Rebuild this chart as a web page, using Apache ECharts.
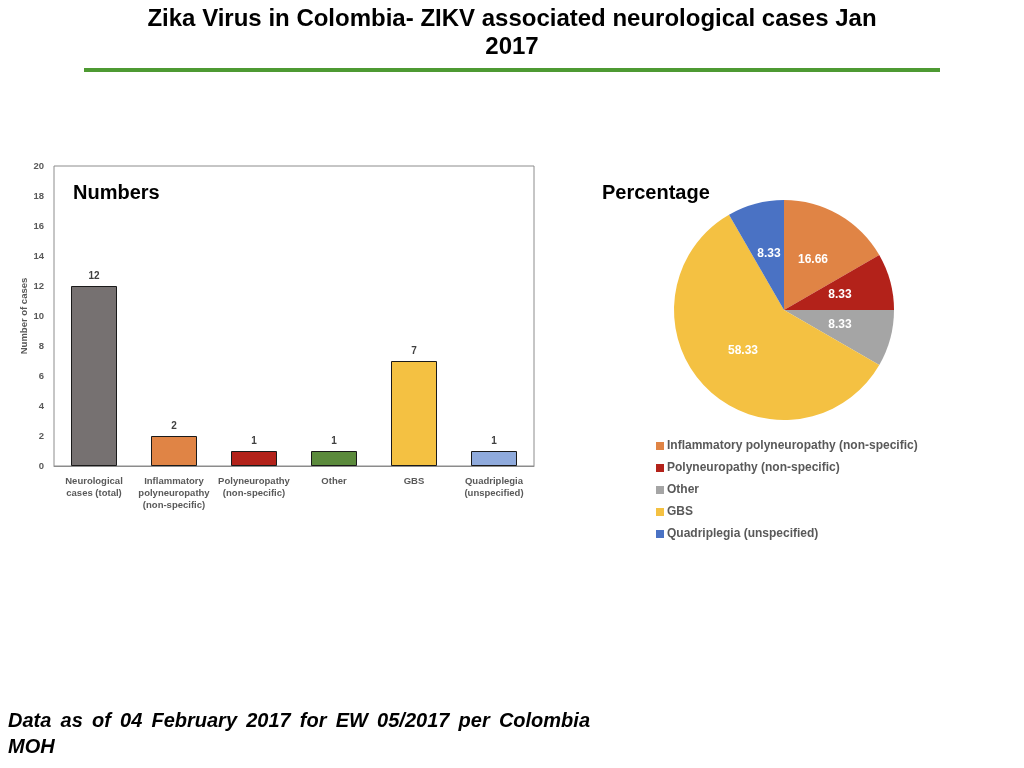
<!DOCTYPE html>
<html lang="en">
<head>
	<meta charset="UTF-8">
	<title>Zika Virus in Colombia</title>
	<script src="https://cdn.jsdelivr.net/npm/echarts@6/dist/echarts.min.js"></script>
	<style>
		html, body { margin: 0; padding: 0; background: #fff; }
		#main { width: 1024px; height: 768px; }
	</style>
</head>
<body>
<div id="main"></div>
<script>
	// bar chart data (numbers)
	var barCategories = ['Neurological\ncases (total)', 'Inflammatory\npolyneuropathy\n(non-specific)', 'Polyneuropathy\n(non-specific)', 'Other', 'GBS', 'Quadriplegia\n(unspecified)'];
	var barValues = [12, 2, 1, 1, 7, 1];
	var barColors = ['#767171', '#E08445', '#B3221A', '#5B8A3C', '#F4C142', '#8FAADC'];

	// pie data (percentage)
	var pieNames = ['Inflammatory polyneuropathy (non-specific)', 'Polyneuropathy (non-specific)', 'Other', 'GBS', 'Quadriplegia (unspecified)'];
	var pieValues = [16.66, 8.33, 8.33, 58.33, 8.33];
	var pieColors = ['#E08445', '#B3221A', '#A5A5A5', '#F4C142', '#4A72C4'];

	var titleLines = ['Zika Virus in Colombia- ZIKV associated neurological cases Jan', '2017'];
	var footWords = 'Data as of 04 February 2017 for EW 05/2017 per Colombia'.split(' ');

	var font = "'Liberation Sans', Arial, sans-serif";

	// lay out the justified first line of the footnote
	function justifyWords(words, x0, x1, fontStr){
		var ctx = document.createElement('canvas').getContext('2d');
		ctx.font = fontStr;
		var widths = words.map(function(w){ return ctx.measureText(w).width; });
		var total = widths.reduce(function(a, b){ return a + b; }, 0);
		var gap = (x1 - x0 - total) / (words.length - 1);
		var out = [], x = x0;
		for(var i=0; i<words.length; i++){
			out.push({x: x, w: words[i]});
			x += widths[i] + gap;
		}
		return out;
	}

	var chart = echarts.init(document.getElementById('main'));

	var footStyle = 'italic bold 20px ' + font;
	var footGraphics = justifyWords(footWords, 8, 590, footStyle).map(function(p){
		return {
			type: 'text', left: p.x, top: 711,
			style: {text: p.w, font: footStyle, fill: '#000'}
		};
	});
	footGraphics.push({
		type: 'text', left: 8, top: 737,
		style: {text: 'MOH', font: footStyle, fill: '#000'}
	});

	var titleGraphics = titleLines.map(function(t, i){
		return {
			type: 'text', left: 'center', top: 7 + i * 28,
			style: {text: t, font: 'bold 24px ' + font, fill: '#000'}
		};
	});

	var option = {
		backgroundColor: '#fff',
		textStyle: {fontFamily: font},
		graphic: titleGraphics.concat([
			{
				type: 'rect', shape: {x: 84, y: 68, width: 856, height: 4},
				style: {fill: '#4E9A32'}
			},
			{
				type: 'text', left: 73, top: 183,
				style: {text: 'Numbers', font: 'bold 20px ' + font, fill: '#000'}
			},
			{
				type: 'text', left: 602, top: 183,
				style: {text: 'Percentage', font: 'bold 20px ' + font, fill: '#000'}
			}
		]).concat(footGraphics),
		grid: {
			left: 54, right: 490, top: 166, bottom: 302,
			show: true, borderColor: '#8c8c8c', borderWidth: 1
		},
		xAxis: {
			type: 'category',
			data: barCategories,
			axisLine: {lineStyle: {color: '#8c8c8c'}},
			axisTick: {show: false},
			axisLabel: {color: '#595959', fontSize: 9.5, fontWeight: 'bold', lineHeight: 12, interval: 0, margin: 9}
		},
		yAxis: {
			type: 'value',
			min: 0, max: 20, interval: 2,
			name: 'Number of cases',
			nameLocation: 'middle',
			nameGap: 24,
			nameTextStyle: {color: '#595959', fontSize: 9.5, fontWeight: 'bold'},
			axisLine: {show: false},
			axisTick: {show: false},
			splitLine: {show: false},
			axisLabel: {color: '#595959', fontSize: 9.5, fontWeight: 'bold', margin: 10}
		},
		legend: {
			data: pieNames,
			orient: 'vertical',
			left: 656, top: 440,
			padding: 0,
			itemWidth: 8, itemHeight: 8, itemGap: 10,
			icon: 'rect',
			textStyle: {color: '#595959', fontSize: 12, fontWeight: 'bold', padding: [0, 0, 0, -2]}
		},
		series: [
			{
				type: 'bar',
				barWidth: 46,
				data: barValues.map(function(v, i){
					return {value: v, itemStyle: {color: barColors[i]}};
				}),
				itemStyle: {borderColor: '#1a1a1a', borderWidth: 1},
				label: {show: true, position: 'top', color: '#404040', fontSize: 10, fontWeight: 'bold', distance: 5}
			},
			{
				type: 'pie',
				center: [784, 310],
				radius: 110,
				startAngle: 90,
				clockwise: true,
				data: pieNames.map(function(n, i){
					return {name: n, value: pieValues[i], itemStyle: {color: pieColors[i]}};
				}),
				label: {
					show: true, position: 'inside',
					formatter: function(p){ return p.value.toFixed(2); },
					color: '#fff', fontSize: 12, fontWeight: 'bold'
				},
				labelLine: {show: false},
				emphasis: {disabled: true}
			}
		]
	};

	chart.setOption(option);
</script>
</body>
</html>
